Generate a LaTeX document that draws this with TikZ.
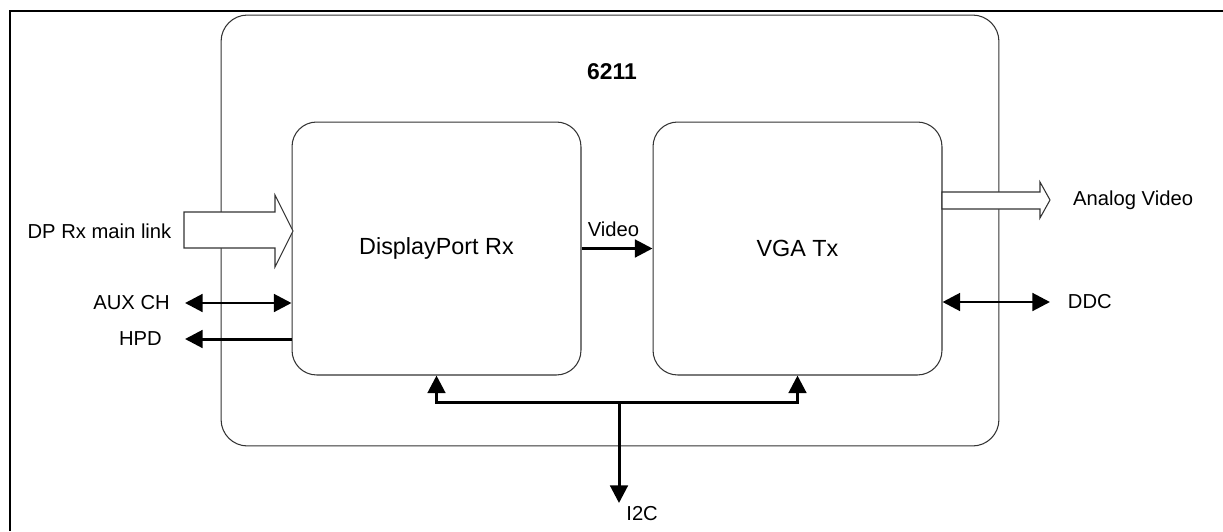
\documentclass[tikz,border=0pt]{standalone}
\usepackage{fontspec}
\setmainfont{Liberation Sans}
\usetikzlibrary{arrows.meta}
\usetikzlibrary{positioning}

\tikzset{
	block/.style={draw=black!80, line width=0.6pt, rounded corners=14pt, minimum width=5.78cm, minimum height=5.06cm, font=\fontsize{13.3}{15}\selectfont},
	lbl/.style={inner sep=0pt, font=\fontsize{11.5}{13}\selectfont},
	sig/.style={line width=1.7pt, -{Triangle[length=10pt,width=10pt]}},
	bisig/.style={line width=1.7pt, {Triangle[length=10pt,width=10pt]}-{Triangle[length=10pt,width=10pt]}},
	fat/.style={draw=black!80, line width=0.6pt, fill=white}
}

\begin{document}
\begin{tikzpicture}[x=0.02cm, y=-0.02cm]
	\useasboundingbox (0, 0) rectangle (1223, 531);
	\draw[line width=1.2pt] (10, 531) |- (1223, 11);

	\node[draw=black!80, line width=0.6pt, rounded corners=15pt, minimum width=15.56cm, minimum height=8.62cm] (chip) at (610, 230.5) {};
	\node[font=\fontsize{13}{15}\selectfont\bfseries] (title) at (612, 72) {6211};

	\node[block] (dprx) at (436.5, 248.5) {DisplayPort Rx};
	\node[block] (vgatx) at (797.5, 248.5) {VGA Tx};

	% input side
	\draw[fat] (184, 212) -- (275, 212) -- (275, 195) -- (293, 231) -- (275, 267) -- (275, 248) -- (184, 248) -- cycle;
	\coordinate (mainlink) at (184, 231);
	\node[lbl, left=7pt of mainlink] (mainlbl) {DP Rx main link};

	\coordinate (aux) at (185, 303);
	\node[lbl, left=8.5pt of aux] (auxlbl) {AUX CH};
	\draw[bisig] (aux) -- (aux -| dprx.west);

	\coordinate (hpd) at (185, 339);
	\node[lbl, left=13pt of hpd] (hpdlbl) {HPD};
	\draw[sig] (hpd -| dprx.west) -- (hpd);

	% between the blocks
	\draw[sig] (dprx.east) -- (vgatx.west);
	\node[lbl, anchor=south west] (videolbl) at ([xshift=3.4pt, yshift=6.5pt]dprx.east) {Video};

	% output side
	\draw[fat] (942, 192) -- (1040, 192) -- (1040, 182) -- (1050, 200) -- (1040, 218) -- (1040, 209) -- (942, 209) -- cycle;
	\coordinate (analog) at (1050, 200);
	\node[lbl, right=13pt of analog] (analoglbl) {Analog Video};

	\coordinate (ddc) at (1050, 302);
	\node[lbl, right=10pt of ddc] (ddclbl) {DDC};
	\draw[bisig] (ddc -| vgatx.east) -- (ddc);

	% i2c bus
	\coordinate (bus) at (619, 402);
	\coordinate (i2c) at (619, 503);
	\draw[bisig] (dprx.south) |- (bus) -| (vgatx.south);
	\draw[sig] (bus) -- (i2c);
	\node[lbl, anchor=north west] (i2clbl) at ([xshift=4pt, yshift=-2pt]i2c) {I2C};
\end{tikzpicture}
\end{document}
